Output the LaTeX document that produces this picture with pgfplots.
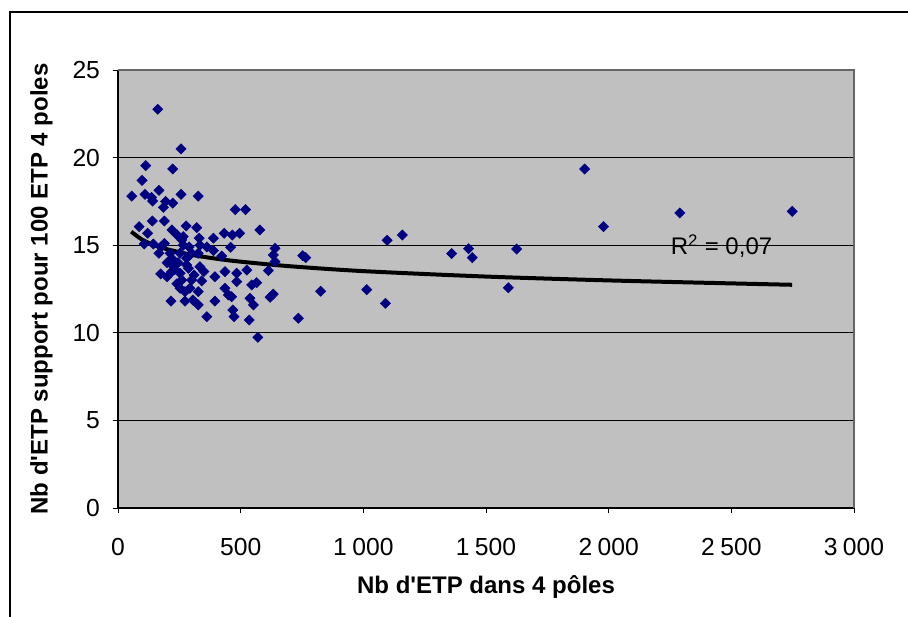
\documentclass[border=0pt]{standalone}
\usepackage{pgfplots}
\pgfplotsset{compat=1.18}
\usepackage{fontspec}
\setmainfont{Liberation Sans}
\definecolor{navy}{HTML}{000080}
\definecolor{plotbg}{HTML}{C0C0C0}
\begin{document}
\begin{tikzpicture}[x=1pt,y=1pt]
\begin{axis}[
  at={(0pt,0pt)}, anchor=south west,
  scale only axis, width=552pt, height=328.5pt,
  xmin=0, xmax=3000, ymin=0, ymax=25,
  xtick={0,500,...,3000}, ytick={0,5,...,25},
  axis background/.style={fill=plotbg},
  axis line style={black, line width=0.9pt},
  axis x line*=bottom, axis y line*=left,
  tick align=outside, tick style={black, line width=0.7pt},
  major tick length=4pt,
  ymajorgrids, grid style={black, line width=0.7pt},
  /pgf/number format/assume math mode=true,
  /pgf/number format/1000 sep={\hspace{0.22em}},
  ticklabel style={font=\fontsize{18.5}{21}\selectfont},
  xticklabel style={yshift=-15pt},
  yticklabel style={xshift=-6pt},
  xlabel={\textbf{Nb d\textquotesingle ETP dans 4 pôles}},
  ylabel={\textbf{Nb d\textquotesingle ETP support pour 100 ETP 4 poles}},
  label style={font=\fontsize{18}{21}\selectfont},
  xlabel style={yshift=-8pt},
  ylabel style={yshift=8pt},
  clip=false,
]
\draw[gray!80!black, line width=0.9pt] (axis cs:0,25) -- (axis cs:3000,25) -- (axis cs:3000,0);
\addplot[only marks, mark=square*, mark size=2.7pt, mark options={rotate=45, fill=navy, draw=navy}] coordinates {
(162,22.76) (257,20.5) (113,19.54) (223,19.35) (98,18.7) (56,17.8) (167,18.13) (110,17.9)
(137,17.73) (141,17.52) (257,17.9) (327,17.8) (194,17.5) (223,17.4) (185,17.16) (478,17.03)
(520,17.03) (140,16.38) (189,16.38) (86,16.06) (220,15.87) (278,16.1) (321,16.0) (121,15.68)
(578,15.87) (433,15.68) (496,15.68) (389,15.4) (466,15.58) (266,15.49) (107,15.07) (640,14.82)
(753,14.4) (144,15.07) (189,15.1) (260,15.3) (266,15.0) (331,15.4) (334,15.0) (362,14.9)
(389,14.69) (459,14.88) (633,14.44) (167,14.54) (212,14.54) (219,14.25) (253,14.54) (280,14.25)
(300,14.54) (327,14.54) (423,14.38) (640,14.06) (219,13.87) (280,13.87) (334,13.77) (174,13.36)
(219,13.49) (253,13.4) (287,13.68) (436,13.49) (484,13.4) (395,13.2) (525,13.58) (613,13.55)
(300,13.01) (341,12.96) (260,13.01) (484,12.92) (545,12.73) (565,12.86) (253,12.54) (293,12.54)
(436,12.54) (273,12.35) (327,12.35) (450,12.16) (463,12.06) (633,12.21) (620,12.03) (538,11.97)
(216,11.81) (273,11.81) (305,11.87) (327,11.59) (395,11.81) (552,11.59) (362,10.92) (468,11.3)
(473,10.92) (535,10.73) (735,10.83) (570,9.74) (765,14.29) (1097,15.28) (1159,15.58) (1360,14.52)
(1429,14.8) (1444,14.29) (826,12.37) (1014,12.46) (1090,11.68) (1902,19.35) (1979,16.06) (2290,16.84)
(2748,16.93) (1625,14.78) (1591,12.57)
(200,13.2) (240,12.8) (230,13.6) (310,13.3) (350,13.5) (200,14.0) (245,14.0) (290,14.9) (240,15.6) (175,14.9)
};
\addplot[black, line width=3pt, smooth] coordinates {
(54,15.77) (100,15.30) (150,14.99) (200,14.77) (300,14.45) (400,14.23) (500,14.06) (700,13.80)
(1000,13.52) (1500,13.21) (2000,12.99) (2500,12.82) (2748,12.74)
};
\node[anchor=center, font=\fontsize{18}{21}\selectfont] at (axis cs:2460,14.95) {R\textsuperscript{2} = 0,07};
\end{axis}
\draw[black, line width=0.9pt] (-81pt,-81.75pt) -- (-81pt,372pt) -- (592.5pt,372pt);
\pgfresetboundingbox
\useasboundingbox (-88.5pt,-81.75pt) rectangle (592.5pt,381pt);
\end{tikzpicture}
\end{document}
